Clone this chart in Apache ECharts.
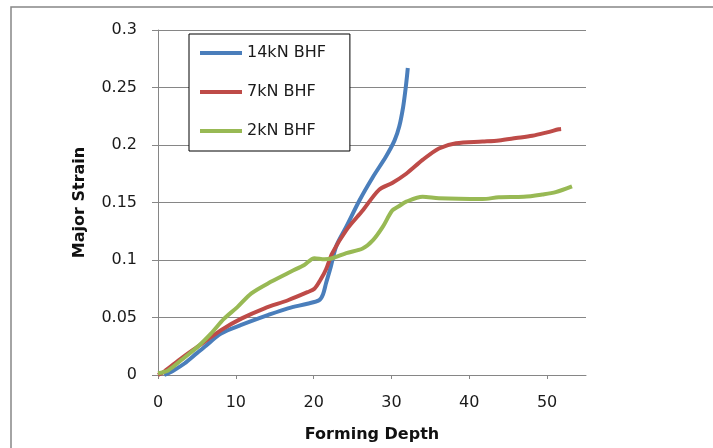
<!DOCTYPE html>
<html>
<head>
<meta charset="utf-8">
<script src="https://cdn.jsdelivr.net/npm/echarts@6/dist/echarts.min.js"></script>
<style>
  html, body { margin: 0; padding: 0; background: #fff; }
  #chart { width: 713px; height: 448px; }
</style>
</head>
<body>
<div id="chart"></div>
<script>
// values
const seriesNames = ['14kN BHF', '7kN BHF', '2kN BHF'];
const xTicks = [0, 10, 20, 30, 40, 50];

const depth14 = [0.8, 2.0, 3.4, 5.0, 6.0, 8.1, 10.7, 14.1, 16.7, 19.2, 20.7, 21.2, 21.6, 22.2, 22.9, 24.2, 25.9, 27.6, 29.3, 30.4, 31.0, 31.5, 31.8, 32.0, 32.1];
const strain14 = [0.000, 0.004, 0.010, 0.019, 0.0246, 0.036, 0.0435, 0.052, 0.058, 0.062, 0.065, 0.070, 0.080, 0.094, 0.112, 0.129, 0.152, 0.172, 0.190, 0.204, 0.216, 0.233, 0.248, 0.260, 0.267];

const depth7 = [0, 0.8, 3.0, 5.1, 8.1, 10.7, 13.7, 16.7, 19.2, 20.1, 20.9, 21.6, 22.4, 24.2, 26.3, 28.4, 30.1, 31.9, 34.0, 36.1, 38.3, 41.7, 43.8, 46.0, 48.1, 50.0, 51.5, 51.8];
const strain7 = [0.000, 0.003, 0.0145, 0.0246, 0.039, 0.049, 0.058, 0.065, 0.072, 0.075, 0.083, 0.092, 0.106, 0.126, 0.143, 0.161, 0.167, 0.175, 0.187, 0.197, 0.2015, 0.203, 0.204, 0.206, 0.208, 0.211, 0.2137, 0.214];

const depth2 = [0, 1.3, 3.0, 5.1, 6.8, 8.5, 10.2, 12.0, 14.5, 17.1, 18.8, 20.1, 21.4, 22.4, 24.2, 26.3, 27.6, 28.9, 30.1, 31.0, 31.9, 34.0, 36.1, 41.7, 43.8, 47.0, 49.4, 51.1, 53.2];
const strain2 = [0.0015, 0.004, 0.013, 0.0246, 0.036, 0.049, 0.059, 0.071, 0.081, 0.090, 0.0957, 0.1015, 0.1006, 0.1015, 0.106, 0.110, 0.117, 0.129, 0.143, 0.147, 0.1507, 0.155, 0.1536, 0.153, 0.1545, 0.155, 0.157, 0.159, 0.164];

const colors = ['#4a7ebb', '#be4b48', '#98b954'];
const font = 'DejaVu Sans';

function pairs(xs, ys) {
  return xs.map((x, i) => [x, ys[i]]);
}

const chart = echarts.init(document.getElementById('chart'));

chart.setOption({
  animation: false,
  color: colors,
  graphic: [{
    type: 'rect',
    shape: { x: 11, y: 7, width: 800, height: 500 },
    style: { fill: 'none', stroke: '#868686', lineWidth: 1.5 },
    silent: true
  }],
  grid: { left: 158, top: 30, right: 127, bottom: 73 },
  legend: {
    orient: 'vertical',
    left: 189,
    top: 34,
    data: seriesNames,
    icon: 'rect',
    itemWidth: 42,
    itemHeight: 4,
    itemGap: 19,
    padding: [9, 24, 10, 11],
    borderColor: '#000',
    borderWidth: 1,
    backgroundColor: '#fff',
    textStyle: { fontFamily: font, fontSize: 16, lineHeight: 20, color: '#1a1a1a' }
  },
  xAxis: {
    type: 'value',
    min: 0,
    max: 55,
    interval: 10,
    name: 'Forming Depth',
    nameLocation: 'middle',
    nameGap: 52,
    nameTextStyle: { fontFamily: font, fontSize: 16, fontWeight: 'bold', color: '#111' },
    axisLine: { lineStyle: { color: '#868686', width: 1 } },
    axisTick: { show: true, length: 4, lineStyle: { color: '#868686' }, customValues: xTicks },
    axisLabel: { customValues: xTicks, margin: 20, fontFamily: font, fontSize: 16, color: '#1a1a1a' },
    splitLine: { show: false }
  },
  yAxis: {
    type: 'value',
    min: 0,
    max: 0.3,
    interval: 0.05,
    name: 'Major Strain',
    nameLocation: 'middle',
    nameGap: 70,
    nameTextStyle: { fontFamily: font, fontSize: 16, fontWeight: 'bold', color: '#111' },
    axisLine: { show: true, lineStyle: { color: '#868686', width: 1 } },
    axisTick: { show: true, length: 6, lineStyle: { color: '#868686' } },
    axisLabel: { margin: 21, fontFamily: font, fontSize: 16, color: '#1a1a1a' },
    splitLine: { lineStyle: { color: '#868686', width: 1 } }
  },
  series: [
    { name: seriesNames[0], type: 'line', data: pairs(depth14, strain14) },
    { name: seriesNames[1], type: 'line', data: pairs(depth7, strain7) },
    { name: seriesNames[2], type: 'line', data: pairs(depth2, strain2) }
  ].map(s => Object.assign(s, {
    showSymbol: false,
    smooth: 0.3,
    lineStyle: { width: 4 }
  }))
});
</script>
</body>
</html>
